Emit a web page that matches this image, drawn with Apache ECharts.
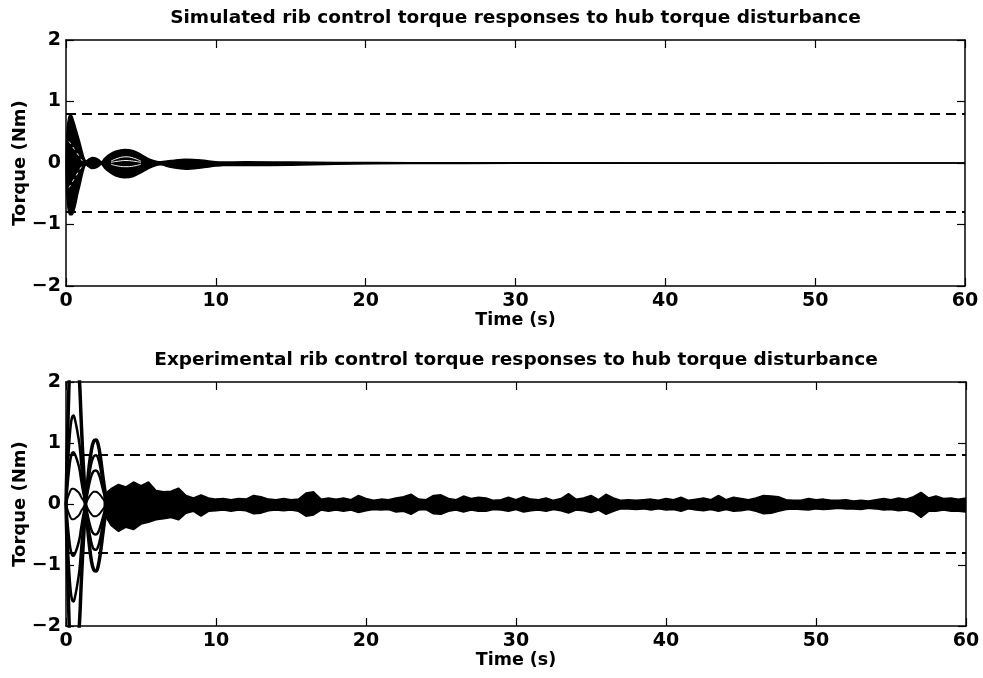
<!DOCTYPE html>
<html>
<head>
<meta charset="utf-8">
<script src="https://cdn.jsdelivr.net/npm/echarts@6/dist/echarts.min.js"></script>
<style>
  html, body { margin: 0; padding: 0; background: #fff; }
  #main { width: 983px; height: 678px; }
</style>
</head>
<body>
<div id="main"></div>
<script>
// axis ticks
const X_TICKS = [0, 10, 20, 30, 40, 50, 60]
const Y_TICKS = [-2, -1, 0, 1, 2]
// torque limit (dashed lines)
const DASH_LEVELS = [0.8, -0.8]

// simulated responses: envelope of all rib traces
const SIM_T = [0, 0.08, 0.25, 0.4, 0.85, 1.35, 1.5, 1.75, 2.0, 2.2, 2.35, 2.6, 2.9, 3.3, 3.9, 4.5, 5.0, 5.5, 6.0, 6.3, 7.0, 8.0, 9.0, 10.0, 10.5, 12, 15, 18, 23, 30, 60]
const SIM_UP = [0, 0.55, 0.78, 0.76, 0.4, 0.03, 0.06, 0.09, 0.08, 0.05, 0.02, 0.08, 0.14, 0.19, 0.22, 0.2, 0.14, 0.07, 0.03, 0.02, 0.04, 0.06, 0.05, 0.02, 0.015, 0.02, 0.015, 0.01, 0.005, 0.003, 0]
const SIM_LO = [0, -0.6, -0.84, -0.84, -0.44, -0.03, -0.06, -0.09, -0.08, -0.05, -0.02, -0.09, -0.15, -0.21, -0.24, -0.22, -0.16, -0.09, -0.04, -0.03, -0.07, -0.1, -0.08, -0.05, -0.04, -0.04, -0.035, -0.02, -0.01, -0.005, 0]
// light gaps between traces inside the lobes
const SIM_GAP_T = [3.0, 3.5, 4.0, 4.5, 5.0]
const SIM_GAP_A = [0.03, 0.08, 0.1, 0.08, 0.03]
const SIM_GAP_B = [0.01, 0.03, 0.04, 0.03, 0.01]
const SIM_GAP_C = [-0.02, -0.05, -0.06, -0.05, -0.02]
const SIM_GAP2_T = [0.2, 1.1]
const SIM_GAP2_A = [0.35, 0.03]
const SIM_GAP2_B = [-0.4, -0.03]

// experimental responses: first two swings of individual traces
const EXP_EARLY_T = [0, 0.1, 0.2, 0.3, 0.4, 0.5, 0.6, 0.75, 0.9, 1.0, 1.1, 1.2, 1.3, 1.4, 1.55, 1.7, 1.85, 2.0, 2.15, 2.3, 2.45, 2.6, 2.75]
const EXP_TRACE_1 = [0, 1.05, 1.95, 2.61, 2.94, 3.0, 2.85, 2.49, 2.01, 1.44, 0.9, 0.45, 0, -0.28, -0.66, -0.94, -1.08, -1.1, -1.01, -0.79, -0.5, -0.22, 0]
const EXP_TRACE_2 = [0, -1.02, -1.89, -2.52, -2.84, -2.9, -2.76, -2.41, -1.94, -1.39, -0.87, -0.44, 0, 0.26, 0.63, 0.89, 1.03, 1.05, 0.97, 0.76, 0.47, 0.21, 0]
const EXP_TRACE_3 = [0, 0.51, 0.94, 1.26, 1.42, 1.45, 1.38, 1.2, 0.97, 0.7, 0.44, 0.22, 0, -0.19, -0.45, -0.64, -0.74, -0.75, -0.69, -0.54, -0.34, -0.15, 0]
const EXP_TRACE_4 = [0, -0.56, -1.04, -1.39, -1.57, -1.6, -1.52, -1.33, -1.07, -0.77, -0.48, -0.24, 0, 0.2, 0.48, 0.68, 0.78, 0.8, 0.74, 0.58, 0.36, 0.16, 0]
const EXP_TRACE_5 = [0, 0.3, 0.55, 0.74, 0.83, 0.85, 0.81, 0.71, 0.57, 0.41, 0.26, 0.13, 0, -0.13, -0.3, -0.43, -0.49, -0.5, -0.46, -0.36, -0.23, -0.1, 0]
const EXP_TRACE_6 = [0, -0.3, -0.55, -0.74, -0.83, -0.85, -0.81, -0.71, -0.57, -0.41, -0.26, -0.13, 0, 0.14, 0.33, 0.47, 0.54, 0.55, 0.51, 0.4, 0.25, 0.11, 0]
const EXP_TRACE_7 = [0, 0.09, 0.16, 0.22, 0.25, 0.25, 0.24, 0.21, 0.17, 0.12, 0.08, 0.04, 0, -0.05, -0.12, -0.17, -0.2, -0.2, -0.18, -0.14, -0.09, -0.04, 0]
const EXP_TRACE_8 = [0, -0.09, -0.16, -0.22, -0.25, -0.25, -0.24, -0.21, -0.17, -0.12, -0.08, -0.04, 0, 0.05, 0.12, 0.17, 0.2, 0.2, 0.18, 0.14, 0.09, 0.04, 0]

// experimental responses: envelope of the residual vibration band
const EXP_BAND_T = [2.5, 3, 3.5, 4, 4.5, 5, 5.5, 6, 6.5, 7, 7.5, 8, 8.5, 9, 9.5, 10, 10.5, 11, 11.5, 12, 12.5, 13, 13.5, 14, 14.5, 15, 15.5, 16, 16.5, 17, 17.5, 18, 18.5, 19, 19.5, 20, 20.5, 21, 21.5, 22, 22.5, 23, 23.5, 24, 24.5, 25, 25.5, 26, 26.5, 27, 27.5, 28, 28.5, 29, 29.5, 30, 30.5, 31, 31.5, 32, 32.5, 33, 33.5, 34, 34.5, 35, 35.5, 36, 36.5, 37, 37.5, 38, 38.5, 39, 39.5, 40, 40.5, 41, 41.5, 42, 42.5, 43, 43.5, 44, 44.5, 45, 45.5, 46, 46.5, 47, 47.5, 48, 48.5, 49, 49.5, 50, 50.5, 51, 51.5, 52, 52.5, 53, 53.5, 54, 54.5, 55, 55.5, 56, 56.5, 57, 57.5, 58, 58.5, 59, 59.5, 60]
const EXP_BAND_UP = [0.15, 0.25, 0.32, 0.28, 0.36, 0.3, 0.36, 0.22, 0.2, 0.21, 0.26, 0.14, 0.1, 0.15, 0.1, 0.08, 0.09, 0.07, 0.09, 0.08, 0.14, 0.12, 0.08, 0.07, 0.09, 0.07, 0.08, 0.18, 0.2, 0.08, 0.1, 0.08, 0.1, 0.07, 0.14, 0.09, 0.06, 0.08, 0.07, 0.1, 0.12, 0.16, 0.08, 0.07, 0.14, 0.15, 0.09, 0.07, 0.13, 0.09, 0.11, 0.1, 0.06, 0.07, 0.11, 0.07, 0.12, 0.08, 0.07, 0.1, 0.06, 0.09, 0.17, 0.08, 0.1, 0.14, 0.07, 0.16, 0.1, 0.06, 0.07, 0.06, 0.07, 0.08, 0.06, 0.09, 0.07, 0.11, 0.06, 0.08, 0.1, 0.07, 0.14, 0.07, 0.11, 0.09, 0.07, 0.1, 0.14, 0.13, 0.12, 0.07, 0.06, 0.06, 0.09, 0.07, 0.08, 0.06, 0.06, 0.07, 0.05, 0.06, 0.05, 0.07, 0.09, 0.07, 0.1, 0.08, 0.12, 0.19, 0.1, 0.13, 0.09, 0.1, 0.08, 0.1]
const EXP_BAND_LO = [-0.15, -0.35, -0.45, -0.38, -0.42, -0.33, -0.3, -0.26, -0.24, -0.22, -0.26, -0.15, -0.12, -0.2, -0.12, -0.11, -0.1, -0.12, -0.1, -0.11, -0.16, -0.15, -0.11, -0.1, -0.11, -0.1, -0.12, -0.2, -0.18, -0.1, -0.12, -0.1, -0.12, -0.1, -0.14, -0.11, -0.09, -0.1, -0.09, -0.13, -0.12, -0.17, -0.1, -0.09, -0.16, -0.17, -0.12, -0.1, -0.13, -0.1, -0.12, -0.12, -0.09, -0.1, -0.12, -0.09, -0.13, -0.11, -0.1, -0.12, -0.09, -0.11, -0.15, -0.1, -0.11, -0.14, -0.1, -0.17, -0.12, -0.08, -0.08, -0.09, -0.08, -0.1, -0.08, -0.1, -0.09, -0.12, -0.08, -0.1, -0.11, -0.09, -0.12, -0.09, -0.12, -0.11, -0.09, -0.12, -0.16, -0.15, -0.12, -0.09, -0.08, -0.09, -0.1, -0.08, -0.09, -0.08, -0.07, -0.08, -0.08, -0.09, -0.07, -0.08, -0.1, -0.09, -0.11, -0.1, -0.13, -0.22, -0.12, -0.12, -0.1, -0.12, -0.12, -0.13]

const FONT = 'DejaVu Sans'
const INK = '#000'

function pairs(ts, vs) {
  return ts.map((t, i) => [t, vs[i]])
}

function minusSign(v) {
  return String(v).replace('-', '\u2212')
}

// bottom x axis with labels + top x axis used as the frame and panel title
function xAxes(gridIndex, title) {
  return [
    {
      gridIndex, type: 'value', min: X_TICKS[0], max: X_TICKS[X_TICKS.length - 1], interval: 10,
      position: 'bottom',
      name: 'Time (s)', nameLocation: 'middle', nameGap: 25, nameMoveOverlap: false,
      nameTextStyle: { fontFamily: FONT, fontWeight: 'bold', fontSize: 17.5, color: INK },
      axisLine: { show: true, onZero: false, lineStyle: { color: INK, width: 1.5 } },
      axisTick: { show: true, inside: true, length: 8, lineStyle: { color: INK, width: 1.2 } },
      axisLabel: { show: true, margin: 6, fontFamily: FONT, fontWeight: 'bold', fontSize: 19, color: INK },
      splitLine: { show: false }
    },
    {
      gridIndex, type: 'value', min: X_TICKS[0], max: X_TICKS[X_TICKS.length - 1], interval: 10,
      position: 'top',
      name: title, nameLocation: 'middle', nameGap: 12, nameMoveOverlap: false,
      nameTextStyle: { fontFamily: FONT, fontWeight: 'bold', fontSize: 18.5, color: INK },
      axisLine: { show: true, onZero: false, lineStyle: { color: INK, width: 1.5 } },
      axisTick: { show: true, inside: true, length: 8, lineStyle: { color: INK, width: 1.2 } },
      axisLabel: { show: false },
      splitLine: { show: false }
    }
  ]
}

function yAxes(gridIndex) {
  return [
    {
      gridIndex, type: 'value', min: Y_TICKS[0], max: Y_TICKS[Y_TICKS.length - 1], interval: 1,
      position: 'left',
      name: 'Torque (Nm)', nameLocation: 'middle', nameGap: 37, nameMoveOverlap: false,
      nameTextStyle: { fontFamily: FONT, fontWeight: 'bold', fontSize: 18, color: INK },
      axisLine: { show: true, onZero: false, lineStyle: { color: INK, width: 1.5 } },
      axisTick: { show: true, inside: true, length: 8, lineStyle: { color: INK, width: 1.2 } },
      axisLabel: { show: true, margin: 5, fontFamily: FONT, fontWeight: 'bold', fontSize: 19, color: INK, formatter: minusSign },
      splitLine: { show: false }
    },
    {
      gridIndex, type: 'value', min: Y_TICKS[0], max: Y_TICKS[Y_TICKS.length - 1], interval: 1,
      position: 'right',
      axisLine: { show: true, onZero: false, lineStyle: { color: INK, width: 1.5 } },
      axisTick: { show: true, inside: true, length: 8, lineStyle: { color: INK, width: 1.2 } },
      axisLabel: { show: false },
      splitLine: { show: false }
    }
  ]
}

const dashMarks = {
  symbol: 'none',
  silent: true,
  label: { show: false },
  lineStyle: { color: INK, width: 2, type: [10, 6] },
  data: DASH_LEVELS.map(v => ({ yAxis: v }))
}

// filled envelope half (upper or lower), filled towards zero
function bandSeries(xi, yi, ts, vs, smooth, withDash) {
  const s = {
    type: 'line', xAxisIndex: xi, yAxisIndex: yi,
    data: pairs(ts, vs),
    showSymbol: false, smooth,
    lineStyle: { color: INK, width: 1.5 },
    areaStyle: { color: INK, opacity: 1, origin: 0 },
    z: 2
  }
  if (withDash) s.markLine = dashMarks
  return s
}

function traceSeries(xi, yi, ts, vs, width) {
  return {
    type: 'line', xAxisIndex: xi, yAxisIndex: yi,
    data: pairs(ts, vs),
    showSymbol: false, smooth: 0.4,
    lineStyle: { color: INK, width },
    z: 3
  }
}

function gapSeries(xi, yi, ts, vs, dashed) {
  return {
    type: 'line', xAxisIndex: xi, yAxisIndex: yi,
    data: pairs(ts, vs),
    showSymbol: false, smooth: 0.5,
    lineStyle: { color: '#fff', width: 1, type: dashed ? [3, 4] : 'solid' },
    z: 4
  }
}

const myChart = echarts.init(document.getElementById('main'), null, { renderer: 'canvas' })

const option = {
  animation: false,
  backgroundColor: '#fff',
  grid: [
    { left: 66, right: 18, top: 40, height: 246, containLabel: false, outerBoundsMode: 'none' },
    { left: 66, right: 17, top: 382, height: 244, containLabel: false, outerBoundsMode: 'none' }
  ],
  xAxis: [
    ...xAxes(0, 'Simulated rib control torque responses to hub torque disturbance'),
    ...xAxes(1, 'Experimental rib control torque responses to hub torque disturbance')
  ],
  yAxis: [...yAxes(0), ...yAxes(1)],
  series: [
    // simulated
    bandSeries(0, 0, SIM_T, SIM_UP, 0.3, true),
    bandSeries(0, 0, SIM_T, SIM_LO, 0.3, false),
    gapSeries(0, 0, SIM_GAP_T, SIM_GAP_A, false),
    gapSeries(0, 0, SIM_GAP_T, SIM_GAP_B, false),
    gapSeries(0, 0, SIM_GAP_T, SIM_GAP_C, false),
    gapSeries(0, 0, SIM_GAP2_T, SIM_GAP2_A, true),
    gapSeries(0, 0, SIM_GAP2_T, SIM_GAP2_B, true),
    // experimental
    bandSeries(2, 2, EXP_BAND_T, EXP_BAND_UP, false, true),
    bandSeries(2, 2, EXP_BAND_T, EXP_BAND_LO, false, false),
    traceSeries(2, 2, EXP_EARLY_T, EXP_TRACE_1, 3.5),
    traceSeries(2, 2, EXP_EARLY_T, EXP_TRACE_2, 3.5),
    traceSeries(2, 2, EXP_EARLY_T, EXP_TRACE_3, 2.5),
    traceSeries(2, 2, EXP_EARLY_T, EXP_TRACE_4, 2.5),
    traceSeries(2, 2, EXP_EARLY_T, EXP_TRACE_5, 2.5),
    traceSeries(2, 2, EXP_EARLY_T, EXP_TRACE_6, 2.5),
    traceSeries(2, 2, EXP_EARLY_T, EXP_TRACE_7, 2),
    traceSeries(2, 2, EXP_EARLY_T, EXP_TRACE_8, 2)
  ]
}

myChart.setOption(option)
</script>
</body>
</html>
